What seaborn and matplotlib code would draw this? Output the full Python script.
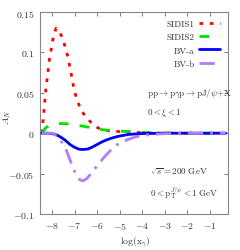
import matplotlib
matplotlib.use("Agg")
import matplotlib.pyplot as plt
import seaborn as sns
import pandas as pd

# ---- data ----
x_sidis1 = [-8.45, -8.4, -8.27, -8.12, -7.96, -7.82, -7.65, -7.51, -7.3, -7.16, -7.02, -6.9,
            -6.76, -6.6, -6.4, -6.1, -5.87, -5.42, -5.0, -4.5, -4.0, -3.0, -2.0, -1.0, -0.3]
y_sidis1 = [0.0, 0.014, 0.054, 0.09, 0.116, 0.13, 0.125, 0.116, 0.095, 0.075, 0.054, 0.042,
            0.032, 0.024, 0.017, 0.009, 0.005, 0.0025, 0.002, 0.0015, 0.0005, 0.0, 0.0, 0.0, 0.0]

x_sidis2 = [-8.45, -8.3, -8.1, -7.9, -7.6, -7.3, -7.0, -6.7, -6.4, -6.1, -5.8, -5.5, -5.0,
            -4.5, -4.0, -3.0, -2.0, -1.0, -0.3]
y_sidis2 = [0.0, 0.006, 0.01, 0.0115, 0.012, 0.0115, 0.0105, 0.009, 0.0075, 0.006, 0.0045,
            0.0035, 0.0025, 0.002, 0.001, 0.0002, 0.0, 0.0, 0.0]

x_bva = [-8.45, -8.2, -8.0, -7.8, -7.6, -7.4, -7.2, -7.0, -6.8, -6.62, -6.4, -6.2, -6.0,
         -5.8, -5.6, -5.4, -5.2, -5.0, -4.6, -4.0, -3.0, -2.0, -1.0, -0.3]
y_bva = [0.0, 0.0, -0.0005, -0.002, -0.005, -0.009, -0.014, -0.0175, -0.0198, -0.0202,
         -0.0195, -0.017, -0.014, -0.011, -0.0085, -0.0065, -0.0048, -0.0035, -0.0015,
         -0.0004, 0.0, 0.0, 0.0, 0.0]

x_bvb = [-8.45, -8.0, -7.85, -7.7, -7.5, -7.35, -7.2, -7.05, -6.9, -6.75, -6.62, -6.45,
         -6.3, -6.1, -5.9, -5.7, -5.5, -5.3, -5.1, -4.9, -4.6, -4.3, -4.0, -3.5, -3.0,
         -2.0, -1.0, -0.3]
y_bvb = [0.0, 0.0, -0.002, -0.006, -0.014, -0.022, -0.033, -0.044, -0.053, -0.058, -0.059,
         -0.056, -0.051, -0.044, -0.037, -0.03, -0.024, -0.018, -0.014, -0.011, -0.0075,
         -0.0045, -0.0028, -0.0013, -0.0006, 0.0, 0.0, 0.0]

labels = ["SIDIS1", "SIDIS2", "BV-a", "BV-b"]
x_ticks = [-8, -7, -6, -5, -4, -3, -2, -1]
y_ticks = [-0.1, -0.05, 0, 0.05, 0.1, 0.15]
y_ticklabels = ["$-0.1$", "$-0.05$", "$0$", "$0.05$", "$0.1$", "$0.15$"]

sns.set_theme(style="ticks")
plt.rcParams["mathtext.fontset"] = "cm"
plt.rcParams["font.family"] = ["cmr10", "DejaVu Serif"]
plt.rcParams["axes.formatter.use_mathtext"] = True

fig = plt.figure(figsize=(2.4, 2.51), dpi=100)
ax = fig.add_axes([40 / 240, 1 - 215 / 251, (228 - 40) / 240, (215 - 13) / 251])

frames = []
for lab, xs, ys in zip(labels, [x_sidis1, x_sidis2, x_bva, x_bvb],
                       [y_sidis1, y_sidis2, y_bva, y_bvb]):
    frames.append(pd.DataFrame({"x": xs, "y": ys, "series": lab}))
df = pd.concat(frames, ignore_index=True)

colors = {"SIDIS1": "#ff0000", "SIDIS2": "#00e000", "BV-a": "#0000ff", "BV-b": "#b07cf8"}
dashes = {"SIDIS1": (1.3, 2.4), "SIDIS2": (3.5, 4.0), "BV-a": "", "BV-b": (5.5, 2.5, 1.0, 2.5)}
zorders = {"SIDIS1": 2, "SIDIS2": 3, "BV-a": 4, "BV-b": 5}

for lab in labels:
    sub = df[df["series"] == lab]
    sns.lineplot(data=sub, x="x", y="y", ax=ax, color=colors[lab], lw=2.0,
                 dashes=False, sort=False, estimator=None, label=None, zorder=zorders[lab])
    line = ax.lines[-1]
    if dashes[lab]:
        line.set_dashes(dashes[lab])
    line.set_label(lab)

ax.set_xlim(-8.53, -0.2)
ax.set_ylim(-0.1, 0.15)
ax.set_xticks(x_ticks)
ax.set_xticklabels([r"$%d$" % v if v >= 0 else r"$-%d$" % (-v) for v in x_ticks])
ax.set_yticks(y_ticks)
ax.set_yticklabels(y_ticklabels)
ax.tick_params(direction="in", top=True, right=True, length=3, width=0.6,
               labelsize=7, colors="#666666", labelcolor="#333333", pad=4)
for s in ax.spines.values():
    s.set_color("#888888")
    s.set_linewidth(0.8)

ax.set_xlabel(r"$\log(\mathrm{x}_\gamma)$", fontsize=7, color="#333333")
ax.xaxis.set_label_coords((135 - 40) / 188, -(236 - 215) / 202)
ax.set_ylabel(r"$A_N$", fontsize=7, color="#333333")
ax.yaxis.set_label_coords(-(40 - 13) / 188, 1 - (117 - 13) / 202)

leg = ax.legend(loc="upper right", bbox_to_anchor=(0.985, 0.99), frameon=False,
                fontsize=6.5, markerfirst=False, handlelength=2.3, handletextpad=0.5,
                labelspacing=0.55, borderaxespad=0.2)
for t in leg.get_texts():
    t.set_color("#333333")

tx = (147 - 40) / 188
ax.text(tx, 1 - (94 - 13) / 202, r"$\mathrm{pp}\rightarrow\mathrm{p}\gamma\mathrm{p}\rightarrow\mathrm{pJ}/\psi\mathrm{+X}$",
        transform=ax.transAxes, fontsize=6.5, color="#333333", va="center", ha="left")
ax.text(tx, 1 - (113 - 13) / 202, r"$0<\xi<1$", transform=ax.transAxes,
        fontsize=6.5, color="#333333", va="center", ha="left")
tx2 = (150 - 40) / 188
ax.text(tx2, 1 - (172 - 13) / 202, r"$\sqrt{s}\mathrm{=200\ GeV}$", transform=ax.transAxes,
        fontsize=6.5, color="#333333", va="center", ha="left")
ax.text(tx2, 1 - (193 - 13) / 202, r"$0<\mathrm{p}_\mathrm{T}^{J/\psi}<1\ \mathrm{GeV}$",
        transform=ax.transAxes, fontsize=6.5, color="#333333", va="center", ha="left")

fig.savefig("out.png", dpi=100)
